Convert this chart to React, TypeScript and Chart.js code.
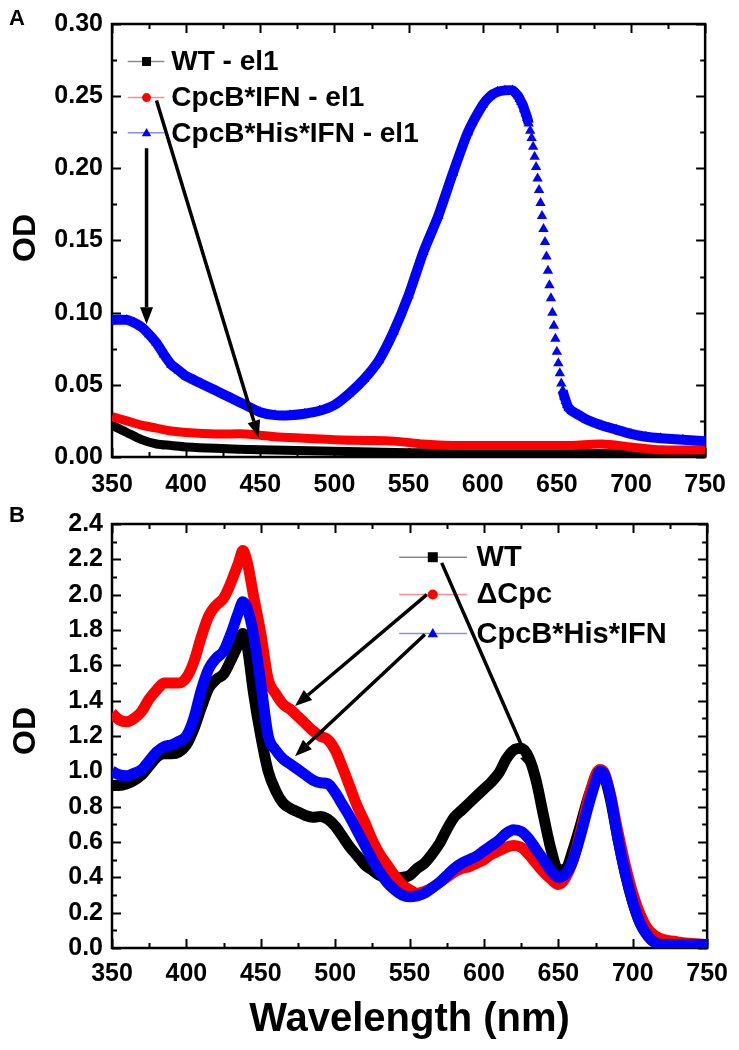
import React, { useEffect, useRef } from "react";
import { Chart, registerables } from "chart.js";

Chart.register(...registerables);

const FONT = "'Liberation Sans', Arial, Helvetica, sans-serif";

// ---------- shared tick labels ----------
const xTickValues = [350, 400, 450, 500, 550, 600, 650, 700, 750];
const yTickValuesA = [0, 0.05, 0.1, 0.15, 0.2, 0.25, 0.3];
const yTickValuesB = [0, 0.2, 0.4, 0.6, 0.8, 1.0, 1.2, 1.4, 1.6, 1.8, 2.0, 2.2, 2.4];

// ---------- Panel A ----------
const labelsA = ["WT - el1", "CpcB*IFN - el1", "CpcB*His*IFN - el1"];
const wlA_WT = [350, 360, 370, 380, 390, 400, 420, 450, 500, 550, 600, 650, 700, 750];
const odA_WT = [0.022, 0.017, 0.012, 0.009, 0.008, 0.007, 0.006, 0.005, 0.004, 0.003, 0.003, 0.003, 0.002, 0.002];
const wlA_IFN = [350, 360, 370, 380, 390, 400, 420, 440, 450, 460, 480, 500, 520, 540, 560, 580, 600, 620, 640, 660, 680, 700, 720, 750];
const odA_IFN = [0.028, 0.025, 0.022, 0.02, 0.018, 0.017, 0.016, 0.016, 0.015, 0.014, 0.013, 0.012, 0.0115, 0.011, 0.009, 0.008, 0.008, 0.008, 0.008, 0.008, 0.009, 0.007, 0.005, 0.005];
const wlA_His = [350, 360, 365, 370, 375, 380, 385, 390, 395, 400, 410, 420, 430, 440, 450, 460, 470, 480, 490, 500, 510, 520, 530, 540, 550, 560, 570, 580, 590, 600, 605, 610, 615, 620, 624, 625, 626, 627, 628, 629, 630, 631, 632, 633, 634, 635, 636, 637, 638, 639, 640, 641, 642, 643, 644, 645, 646, 647, 648, 649, 650, 651, 652, 653, 654, 655, 656, 657, 658, 660, 665, 670, 680, 690, 700, 710, 720, 735, 750];
const odA_His = [0.095, 0.095, 0.093, 0.09, 0.085, 0.079, 0.071, 0.064, 0.06, 0.056, 0.051, 0.046, 0.041, 0.036, 0.031, 0.029, 0.029, 0.03, 0.032, 0.036, 0.044, 0.054, 0.067, 0.087, 0.112, 0.142, 0.167, 0.197, 0.225, 0.244, 0.25, 0.253, 0.254, 0.254, 0.25, 0.248, 0.246, 0.244, 0.241, 0.238, 0.235, 0.231, 0.226, 0.221, 0.215, 0.208, 0.201, 0.193, 0.185, 0.176, 0.167, 0.158, 0.149, 0.139, 0.129, 0.119, 0.11, 0.1, 0.091, 0.082, 0.073, 0.065, 0.058, 0.051, 0.046, 0.042, 0.039, 0.036, 0.034, 0.032, 0.029, 0.026, 0.022, 0.019, 0.016, 0.014, 0.013, 0.012, 0.011];

// ---------- Panel B ----------
const labelsB = ["WT", "\u0394Cpc", "CpcB*His*IFN"];
const wlB = [350, 355, 360, 365, 370, 375, 380, 385, 390, 395, 400, 405, 410, 415, 420, 425, 430, 435, 438, 441, 445, 450, 455, 460, 465, 470, 475, 480, 485, 490, 495, 500, 505, 510, 515, 520, 525, 530, 535, 540, 545, 550, 555, 560, 565, 570, 575, 580, 585, 590, 595, 600, 605, 610, 615, 620, 625, 630, 635, 640, 645, 650, 655, 660, 665, 670, 675, 678, 681, 685, 690, 695, 700, 705, 710, 715, 720, 730, 740, 750];
const odB_WT = [0.92, 0.92, 0.93, 0.95, 0.98, 1.03, 1.08, 1.1, 1.1, 1.11, 1.15, 1.24, 1.36, 1.47, 1.52, 1.55, 1.63, 1.72, 1.78, 1.7, 1.45, 1.2, 1.0, 0.89, 0.82, 0.79, 0.77, 0.75, 0.74, 0.745, 0.73, 0.69, 0.63, 0.57, 0.52, 0.47, 0.44, 0.41, 0.4, 0.395, 0.4, 0.41, 0.45, 0.48, 0.53, 0.59, 0.67, 0.74, 0.78, 0.82, 0.86, 0.9, 0.94, 0.99, 1.07, 1.12, 1.13, 1.08, 0.95, 0.75, 0.56, 0.44, 0.45, 0.56, 0.7, 0.85, 0.96, 1.0, 0.97, 0.84, 0.62, 0.42, 0.26, 0.14, 0.07, 0.03, 0.015, 0.01, 0.005, 0.005];
const odB_dCpc = [1.33, 1.29, 1.28, 1.3, 1.34, 1.41, 1.46, 1.5, 1.5, 1.5, 1.53, 1.62, 1.76, 1.88, 1.94, 1.98, 2.07, 2.18, 2.25, 2.18, 2.0, 1.78, 1.52, 1.44, 1.38, 1.35, 1.31, 1.27, 1.23, 1.2, 1.18, 1.12, 1.02, 0.91, 0.8, 0.71, 0.61, 0.53, 0.47, 0.41, 0.36, 0.33, 0.31, 0.32, 0.34, 0.37, 0.4, 0.43, 0.45, 0.46, 0.48, 0.5, 0.53, 0.55, 0.57, 0.58, 0.57, 0.53, 0.48, 0.43, 0.39, 0.36, 0.4, 0.5, 0.66, 0.84, 0.98, 1.01, 0.99, 0.87, 0.66, 0.47, 0.31, 0.19, 0.11, 0.07, 0.05, 0.035, 0.025, 0.02];
const odB_His = [1.0, 0.98, 0.975, 0.99, 1.01, 1.06, 1.11, 1.14, 1.15, 1.17, 1.2, 1.3, 1.46, 1.58, 1.64, 1.68, 1.78, 1.9, 1.96, 1.92, 1.78, 1.5, 1.2, 1.12, 1.07, 1.04, 1.01, 0.98, 0.95, 0.935, 0.93, 0.88, 0.81, 0.74, 0.66, 0.58, 0.5, 0.43, 0.37, 0.33, 0.3, 0.29, 0.295, 0.31, 0.34, 0.37, 0.41, 0.45, 0.48, 0.5, 0.52, 0.55, 0.58, 0.61, 0.65, 0.67, 0.66, 0.62, 0.56, 0.5, 0.44, 0.4, 0.42, 0.5, 0.64, 0.8, 0.94, 1.0, 0.98, 0.86, 0.62, 0.42, 0.26, 0.14, 0.07, 0.03, 0.02, 0.02, 0.02, 0.02];

const BLACK = "#000000";
const RED = "#ff0000";
const BLUE = "#0000ff";

type Marker = "square" | "circle" | "triangle";

function pts(xs: number[], ys: number[]) {
  return xs.map((x, i) => ({ x, y: ys[i] }));
}

function drawMarker(ctx: CanvasRenderingContext2D, kind: Marker, x: number, y: number, r: number, color: string) {
  ctx.fillStyle = color;
  ctx.beginPath();
  if (kind === "square") {
    ctx.rect(x - r, y - r, 2 * r, 2 * r);
  } else if (kind === "circle") {
    ctx.arc(x, y, r, 0, Math.PI * 2);
  } else {
    ctx.moveTo(x, y - r * 1.1);
    ctx.lineTo(x + r * 1.05, y + r * 0.75);
    ctx.lineTo(x - r * 1.05, y + r * 0.75);
    ctx.closePath();
  }
  ctx.fill();
}

function drawArrow(ctx: CanvasRenderingContext2D, x1: number, y1: number, x2: number, y2: number) {
  const ang = Math.atan2(y2 - y1, x2 - x1);
  const headLen = 17;
  const headW = 13;
  const bx = x2 - headLen * Math.cos(ang);
  const by = y2 - headLen * Math.sin(ang);
  ctx.strokeStyle = "#000";
  ctx.fillStyle = "#000";
  ctx.lineWidth = 3.5;
  ctx.lineCap = "butt";
  ctx.beginPath();
  ctx.moveTo(x1, y1);
  ctx.lineTo(bx, by);
  ctx.stroke();
  ctx.beginPath();
  ctx.moveTo(x2, y2);
  ctx.lineTo(bx + (headW / 2) * Math.sin(ang), by - (headW / 2) * Math.cos(ang));
  ctx.lineTo(bx - (headW / 2) * Math.sin(ang), by + (headW / 2) * Math.cos(ang));
  ctx.closePath();
  ctx.fill();
}

interface PanelCfg {
  letter: string;
  letterY: number;
  yMax: number;
  yMajor: number;
  yDigits: number;
  yTicks: number[];
  legend: {
    labels: string[];
    markers: Marker[];
    colors: string[];
    lineColors: string[];
    rowY: number[];
    lineX: [number, number];
    markerX: number;
    textX: number;
    fontSize: number;
    markerR: number;
  };
  arrows: [number, number, number, number][];
  xTitle?: { text: string; y: number };
  odY: number;
}

function makePlugin(cfg: PanelCfg) {
  return {
    id: "decor" + cfg.letter,
    beforeDatasetsDraw(chart: any) {
      const { ctx, chartArea: a, scales } = chart;
      const xs = scales.x;
      const ys = scales.y;
      ctx.save();
      ctx.strokeStyle = "#000";
      ctx.lineWidth = 2;
      for (let v = 350; v <= 750; v += 25) {
        const px = Math.round(xs.getPixelForValue(v)) + 0.5;
        const len = (v - 350) % 50 === 0 ? 9 : 5;
        ctx.beginPath();
        ctx.moveTo(px, a.bottom);
        ctx.lineTo(px, a.bottom - len);
        ctx.moveTo(px, a.top);
        ctx.lineTo(px, a.top + len);
        ctx.stroke();
      }
      const nMinor = Math.round(cfg.yMax / (cfg.yMajor / 2));
      for (let i = 0; i <= nMinor; i++) {
        const v = (i * cfg.yMajor) / 2;
        const py = Math.round(ys.getPixelForValue(v)) + 0.5;
        const len = i % 2 === 0 ? 9 : 5;
        ctx.beginPath();
        ctx.moveTo(a.left, py);
        ctx.lineTo(a.left + len, py);
        ctx.moveTo(a.right, py);
        ctx.lineTo(a.right - len, py);
        ctx.stroke();
      }
      ctx.lineWidth = 2.5;
      ctx.strokeRect(a.left, a.top, a.right - a.left, a.bottom - a.top);
      ctx.restore();
    },
    afterDraw(chart: any) {
      const { ctx, chartArea: a, scales } = chart;
      const xs = scales.x;
      const ys = scales.y;
      ctx.save();
      ctx.fillStyle = "#000";
      ctx.font = `bold 22px ${FONT}`;
      ctx.textAlign = "left";
      ctx.textBaseline = "middle";
      ctx.fillText(cfg.letter, 9, cfg.letterY);
      ctx.save();
      ctx.translate(26, cfg.odY);
      ctx.rotate(-Math.PI / 2);
      ctx.font = `bold 32px ${FONT}`;
      ctx.textAlign = "center";
      ctx.textBaseline = "middle";
      ctx.fillText("OD", 0, 0);
      ctx.restore();
      if (cfg.xTitle) {
        ctx.font = `bold 40px ${FONT}`;
        ctx.textAlign = "center";
        ctx.textBaseline = "middle";
        ctx.fillText(cfg.xTitle.text, (a.left + a.right) / 2, cfg.xTitle.y);
      }
      const L = cfg.legend;
      L.labels.forEach((lab, i) => {
        const py = ys.getPixelForValue(L.rowY[i]);
        ctx.strokeStyle = L.lineColors[i];
        ctx.lineWidth = 1.5;
        ctx.beginPath();
        ctx.moveTo(xs.getPixelForValue(L.lineX[0]), py);
        ctx.lineTo(xs.getPixelForValue(L.lineX[1]), py);
        ctx.stroke();
        drawMarker(ctx, L.markers[i], xs.getPixelForValue(L.markerX), py, L.markerR, L.colors[i]);
        ctx.fillStyle = "#000";
        ctx.font = `bold ${L.fontSize}px ${FONT}`;
        ctx.textAlign = "left";
        ctx.textBaseline = "middle";
        ctx.fillText(lab, xs.getPixelForValue(L.textX), py + 1);
      });
      cfg.arrows.forEach(([x1, y1, x2, y2]) => {
        drawArrow(ctx, xs.getPixelForValue(x1), ys.getPixelForValue(y1), xs.getPixelForValue(x2), ys.getPixelForValue(y2));
      });
      ctx.restore();
    },
  };
}

function buildOptions(cfg: PanelCfg, topPad: number, xHeight: number, xPad: number) {
  return {
    animation: false,
    responsive: false,
    maintainAspectRatio: false,
    layout: { padding: { left: 0, right: 26, top: topPad, bottom: 0 } },
    plugins: { legend: { display: false }, tooltip: { enabled: false } },
    elements: { point: { hitRadius: 0 } },
    scales: {
      x: {
        type: "linear",
        min: 350,
        max: 750,
        grid: { display: false, drawTicks: false },
        border: { display: false },
        afterBuildTicks: (s: any) => {
          s.ticks = xTickValues.map((v) => ({ value: v }));
        },
        afterFit: (s: any) => {
          s.height = xHeight;
        },
        ticks: {
          autoSkip: false,
          maxRotation: 0,
          padding: xPad,
          color: "#000",
          font: { family: FONT, size: 25, weight: "bold" },
          callback: (v: any) => String(v),
        },
      },
      y: {
        type: "linear",
        min: 0,
        max: cfg.yMax,
        grid: { display: false, drawTicks: false },
        border: { display: false },
        afterBuildTicks: (s: any) => {
          s.ticks = cfg.yTicks.map((v) => ({ value: v }));
        },
        afterFit: (s: any) => {
          s.width = 112;
        },
        ticks: {
          autoSkip: false,
          padding: 9,
          color: "#000",
          font: { family: FONT, size: 25, weight: "bold" },
          callback: (v: any) => Number(v).toFixed(cfg.yDigits),
        },
      },
    },
  };
}

const cfgA: PanelCfg = {
  letter: "A",
  letterY: 19,
  yMax: 0.3,
  yMajor: 0.05,
  yDigits: 2,
  yTicks: yTickValuesA,
  legend: {
    labels: labelsA,
    markers: ["square", "circle", "triangle"],
    colors: [BLACK, RED, BLUE],
    lineColors: ["#8a8a8a", "#ff8a8a", "#8a8aff"],
    rowY: [0.274, 0.249, 0.2246],
    lineX: [360.6, 385.3],
    markerX: 373.3,
    textX: 390,
    fontSize: 28,
    markerR: 4.5,
  },
  arrows: [
    [373.3, 0.214, 373.3, 0.092],
    [380, 0.247, 449, 0.0135],
  ],
  odY: 238,
};

const cfgB: PanelCfg = {
  letter: "B",
  letterY: 16,
  yMax: 2.4,
  yMajor: 0.2,
  yDigits: 1,
  yTicks: yTickValuesB,
  legend: {
    labels: labelsB,
    markers: ["square", "circle", "triangle"],
    colors: [BLACK, RED, BLUE],
    lineColors: ["#8a8a8a", "#ff8a8a", "#8a8aff"],
    rowY: [2.212, 2.001, 1.78],
    lineX: [543, 588.6],
    markerX: 565.6,
    textX: 595,
    fontSize: 29,
    markerR: 5,
  },
  arrows: [
    [571.6, 2.18, 632.9, 1.0],
    [561.6, 2.0, 473, 1.37],
    [560.3, 1.775, 473, 1.086],
  ],
  xTitle: { text: "Wavelength (nm)", y: 520 },
  odY: 231,
};

function PanelA() {
  const ref = useRef<HTMLCanvasElement>(null);
  useEffect(() => {
    if (!ref.current) return;
    const chart = new Chart(ref.current, {
      type: "line",
      data: {
        datasets: [
          {
            label: labelsA[2],
            data: pts(wlA_His, odA_His),
            borderColor: BLUE,
            backgroundColor: BLUE,
            borderWidth: 10,
            pointStyle: "triangle",
            pointRadius: 6,
            pointBorderWidth: 0,
            pointBackgroundColor: BLUE,
            tension: 0.2,
            order: 0,
            segment: {
              borderColor: (c: any) =>
                Math.abs(c.p1.parsed.y - c.p0.parsed.y) / Math.max(1e-6, Math.abs(c.p1.parsed.x - c.p0.parsed.x)) > 0.0045
                  ? "rgba(0,0,0,0)"
                  : BLUE,
            },
          } as any,
          {
            label: labelsA[1],
            data: pts(wlA_IFN, odA_IFN),
            borderColor: RED,
            borderWidth: 9,
            pointRadius: 0,
            tension: 0.3,
            order: 1,
          },
          {
            label: labelsA[0],
            data: pts(wlA_WT, odA_WT),
            borderColor: BLACK,
            borderWidth: 9,
            pointRadius: 0,
            tension: 0.3,
            order: 2,
          },
        ],
      },
      options: buildOptions(cfgA, 20, 43, 13) as any,
      plugins: [makePlugin(cfgA)],
    });
    return () => chart.destroy();
  }, []);
  return <canvas ref={ref} width={739} height={500} style={{ display: "block", width: 739, height: 500 }} />;
}

function PanelB() {
  const ref = useRef<HTMLCanvasElement>(null);
  useEffect(() => {
    if (!ref.current) return;
    const common = { borderWidth: 11, pointRadius: 0, cubicInterpolationMode: "monotone" as const, borderJoinStyle: "round" as const };
    const chart = new Chart(ref.current, {
      type: "line",
      data: {
        datasets: [
          { label: labelsB[2], data: pts(wlB, odB_His), borderColor: BLUE, order: 0, ...common },
          { label: labelsB[1], data: pts(wlB, odB_dCpc), borderColor: RED, order: 1, ...common },
          { label: labelsB[0], data: pts(wlB, odB_WT), borderColor: BLACK, order: 2, ...common },
        ],
      },
      options: buildOptions(cfgB, 14, 102, 11) as any,
      plugins: [makePlugin(cfgB)],
    });
    return () => chart.destroy();
  }, []);
  return <canvas ref={ref} width={739} height={550} style={{ display: "block", width: 739, height: 550 }} />;
}

export default function App() {
  return (
    <div style={{ position: "absolute", left: 0, top: 0, width: 739, height: 1050, background: "#fff" }}>
      <PanelA />
      <PanelB />
    </div>
  );
}
